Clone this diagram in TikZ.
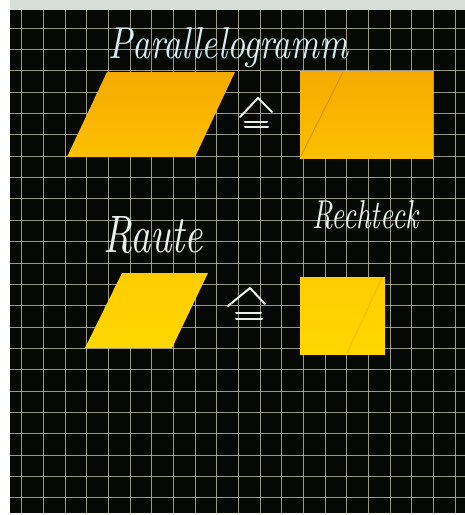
\documentclass[tikz,border=0pt]{standalone}
\usepackage{graphicx}
\definecolor{board}{RGB}{6,9,6}
\definecolor{frametop}{RGB}{215,222,215}
\definecolor{gridc}{RGB}{200,200,180}
\definecolor{chalk}{RGB}{232,240,236}
\definecolor{chalkb}{RGB}{215,236,240}
\definecolor{orangeA}{RGB}{246,170,0}
\definecolor{orangeB}{RGB}{252,192,0}
\definecolor{yellowA}{RGB}{255,205,0}
\definecolor{yellowB}{RGB}{255,214,0}
\definecolor{cutA}{RGB}{214,140,0}
\definecolor{cutB}{RGB}{236,180,0}
\tikzset{
  gridline/.style={draw=gridc, line width=0.9pt, opacity=0.75},
  topcard/.style={top color=orangeA, bottom color=orangeB, draw=none},
  botcard/.style={top color=yellowA, bottom color=yellowB, draw=none},
  cutline/.style={line width=0.8pt},
  chalkline/.style={draw=chalk, line width=2pt, line cap=round, line join=round},
  chalktext/.style={text=chalk, inner sep=0pt, anchor=base west}
}
\begin{document}
\begin{tikzpicture}[x=1pt,y=-1pt]
\useasboundingbox (0,0) rectangle (465,515);
% frame and board
\fill[white] (0,0) rectangle (465,515);
\fill[frametop] (10,0) rectangle (465,10);
\fill[board] (10,10) rectangle (465,513);
% grid
\foreach \k in {0,...,20} {
  \draw[gridline] ({21.7+21.67*\k},10) -- ({21.7+21.67*\k},513);
}
\foreach \k in {0,...,22} {
  \draw[gridline] (10,{28+21.36*\k}) -- (465,{28+21.36*\k});
}
% top row: parallelogram and rectangle
\shade[topcard] (67,157) -- (195,157) -- (235,72) -- (107,72) -- cycle;
\shade[topcard] (300,71) rectangle (433,158);
\draw[cutline, draw=cutA] (343,72) -- (301,156);
% bottom row: rhombus and square
\shade[botcard] (85,348) -- (172,348) -- (208,273) -- (122,273) -- cycle;
\shade[botcard] (300,277) rectangle (385,354);
\draw[cutline, draw=cutB] (382,278) -- (347,353);
% correspondence symbols
\draw[chalkline] (240,117) -- (258,98) -- (272,112);
\draw[chalkline] (245,122) -- (267,122);
\draw[chalkline] (245,127) -- (268,127);
\draw[chalkline] (228,306) -- (250,288) -- (265,304);
\draw[chalkline] (236,313) -- (261,313);
\draw[chalkline] (236,319) -- (262,319);
% labels
\node[chalktext, text=chalkb] (tParallel) at (108,58) {\resizebox{240pt}{31pt}{\itshape Parallelogramm}};
\node[chalktext] (tRaute) at (103,252) {\resizebox{100pt}{36pt}{\itshape Raute}};
\node[chalktext] (tRechteck) at (312,228) {\resizebox{106pt}{28pt}{\itshape Rechteck}};
\end{tikzpicture}
\end{document}
